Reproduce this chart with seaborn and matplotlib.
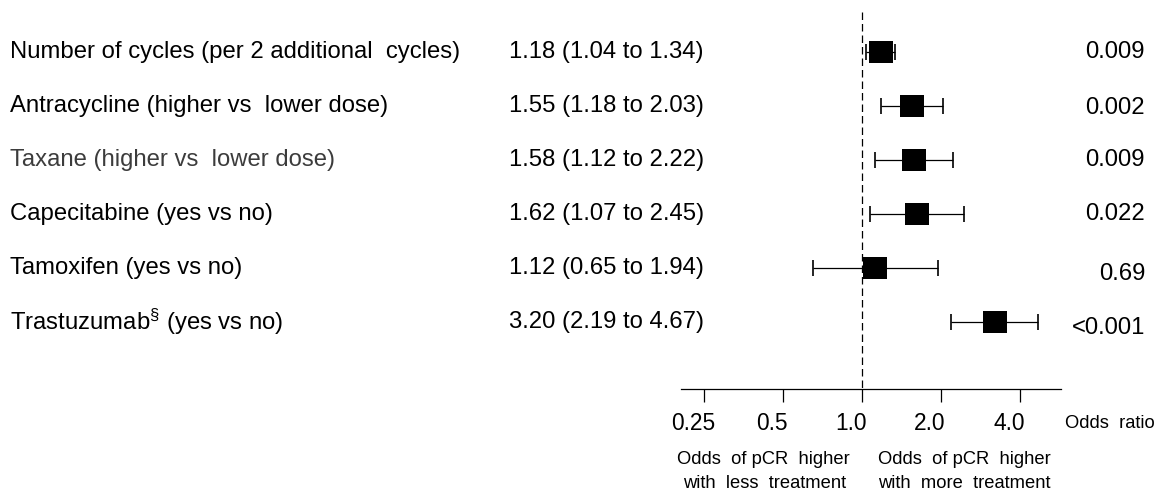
import numpy as np
import pandas as pd
import matplotlib
matplotlib.use("Agg")
import matplotlib.pyplot as plt
import matplotlib.transforms as mtransforms
from matplotlib.path import Path
import seaborn as sns

# ---------------- data ----------------
labels = [
    "Number of cycles (per 2 additional  cycles)",
    "Antracycline (higher vs  lower dose)",
    "Taxane (higher vs  lower dose)",
    "Capecitabine (yes vs no)",
    "Tamoxifen (yes vs no)",
    "Trastuzumab$^{\\mathrm{§}}$ (yes vs no)",
]
odds = [1.18, 1.55, 1.58, 1.62, 1.12, 3.20]
ci_low = [1.04, 1.18, 1.12, 1.07, 0.65, 2.19]
ci_high = [1.34, 2.03, 2.22, 2.45, 1.94, 4.67]
p_values = ["0.009", "0.002", "0.009", "0.022", "0.69", "<0.001"]
tick_values = [0.25, 0.5, 1.0, 2.0, 4.0]
tick_labels = ["0.25", "0.5", "1.0", "2.0", "4.0"]

ci_text = [f"{o:.2f} ({l:.2f} to {h:.2f})" for o, l, h in zip(odds, ci_low, ci_high)]
df = pd.DataFrame({"row": np.arange(len(labels)), "odds": odds,
                   "lo": ci_low, "hi": ci_high})

# ---------------- style ----------------
sns.set_theme(style="white")
plt.rcParams["font.family"] = ["Liberation Sans", "DejaVu Sans"]
plt.rcParams["text.color"] = "black"
plt.rcParams["xtick.color"] = "black"
plt.rcParams["axes.labelcolor"] = "black"
plt.rcParams["mathtext.fontset"] = "custom"
plt.rcParams["mathtext.rm"] = "Liberation Sans"
plt.rcParams["mathtext.it"] = "Liberation Sans:italic"
plt.rcParams["mathtext.bf"] = "Liberation Sans:bold"

MAIN_FS = 17.2
TICK_FS = 16.4
SMALL_FS = 13.2

W, H = 1160, 494
fig = plt.figure(figsize=(W / 100, H / 100), dpi=100)
fig.patch.set_facecolor("white")

# axis line spans px 681..1061, bottom at px 389
x0_px, x1_px, axis_px = 681, 1061, 389
ax = fig.add_axes([x0_px / W, (H - axis_px) / H, (x1_px - x0_px) / W, axis_px / H])
ax.set_facecolor("none")
ax.set_xscale("log", base=2)
one_px, per_doubling = 862, 79
ax.set_xlim(2 ** ((x0_px - one_px) / per_doubling), 2 ** ((x1_px - one_px) / per_doubling))
row0_px, row_step = 52, 54
ax.set_ylim((axis_px - row0_px) / row_step, (0 - row0_px) / row_step)

# error bars
ax.errorbar(df["odds"], df["row"],
            xerr=[df["odds"] - df["lo"], df["hi"] - df["odds"]],
            fmt="none", ecolor="black", elinewidth=0.9, capsize=5.5, capthick=1.2,
            zorder=2)

# squares (slightly wider than tall)
sq = Path([(-1, -0.87), (1, -0.87), (1, 0.87), (-1, 0.87), (-1, -0.87)],
          [Path.MOVETO, Path.LINETO, Path.LINETO, Path.LINETO, Path.CLOSEPOLY])
sns.scatterplot(data=df, x="odds", y="row", marker=sq, s=17.5 ** 2,
                color="black", edgecolor="black", linewidth=0, ax=ax, zorder=3,
                legend=False)

# reference dashed line
ax.vlines(1.0, (12 - row0_px) / row_step, (axis_px - row0_px) / row_step,
          colors="black", linewidth=0.9, linestyles=(0, (6, 3.2)), zorder=1)

# axis styling
for side in ["top", "left", "right"]:
    ax.spines[side].set_visible(False)
ax.spines["bottom"].set_linewidth(0.9)
ax.spines["bottom"].set_color("black")
ax.set_yticks([])
ax.set_xticks(tick_values)
ax.set_xticklabels(tick_labels, fontsize=TICK_FS, color="black")
ax.xaxis.set_minor_locator(matplotlib.ticker.NullLocator())
ax.tick_params(axis="x", which="major", direction="out", length=9.4, width=0.9,
               color="black", pad=7, bottom=True)
ax.set_xlabel("")
ax.set_ylabel("")
offset = mtransforms.ScaledTranslation(-0.11, 0, fig.dpi_scale_trans)
for lab in ax.get_xticklabels():
    lab.set_transform(lab.get_transform() + offset)

# row texts
tr = mtransforms.blended_transform_factory(fig.transFigure, ax.transData)
label_colors = ["black", "black", "#3c3c3c", "black", "black", "black"]
p_offsets = [0, 0.03, 0, 0, 0.12, 0.12]
for i in range(len(labels)):
    ax.text(10 / W, i, labels[i], transform=tr, ha="left", va="center",
            fontsize=MAIN_FS, color=label_colors[i], clip_on=False)
    ax.text(509 / W, i, ci_text[i], transform=tr, ha="left", va="center",
            fontsize=MAIN_FS, color="black", clip_on=False)
    ax.text(1145 / W, i + p_offsets[i], p_values[i], transform=tr, ha="right",
            va="center", fontsize=MAIN_FS, color="black", clip_on=False)

# bottom annotations (figure pixel coordinates)
def ftext(x, y, s, **kw):
    fig.text(x / W, 1 - y / H, s, color="black", **kw)

ftext(1065, 423, "Odds  ratio", ha="left", va="center", fontsize=SMALL_FS)
ftext(763, 459, "Odds  of pCR  higher", ha="center", va="center", fontsize=SMALL_FS)
ftext(765, 483, "with  less  treatment", ha="center", va="center", fontsize=SMALL_FS)
ftext(964, 459, "Odds  of pCR  higher", ha="center", va="center", fontsize=SMALL_FS)
ftext(964, 483, "with  more  treatment", ha="center", va="center", fontsize=SMALL_FS)

fig.savefig("out.png", dpi=100, facecolor="white")
